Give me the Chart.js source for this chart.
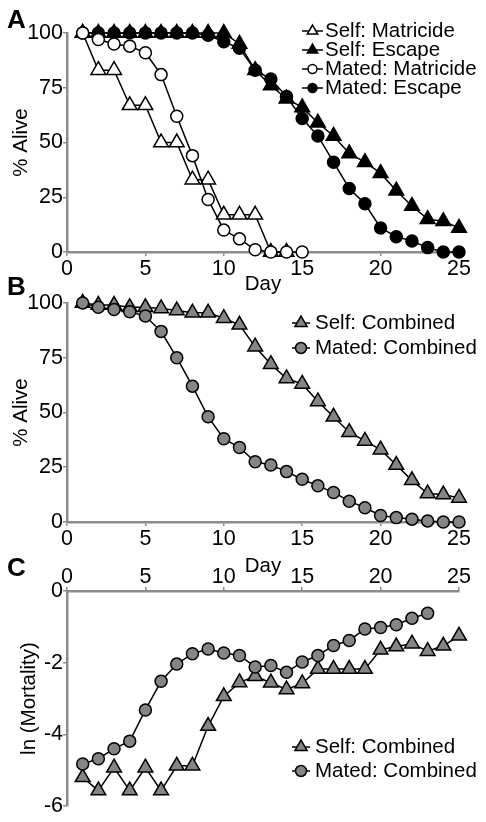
<!DOCTYPE html>
<html>
<head>
<meta charset="utf-8">
<script src="https://cdn.jsdelivr.net/npm/chart.js@4.4.1/dist/chart.umd.min.js"></script>
<style>
  body { margin: 0; background: #fff; }
  #wrap { position: relative; width: 486px; height: 822px; overflow: hidden; }
  canvas { position: absolute; left: 0; }
  .panel { position: absolute; left: 7px; font: bold 26px 'Liberation Sans', Arial, sans-serif; line-height: 26px; }
</style>
</head>
<body>
<div id="wrap">
  <canvas id="chartA" width="486" height="298" style="top:0px"></canvas>
  <canvas id="chartB" width="486" height="290" style="top:290px"></canvas>
  <canvas id="chartC" width="486" height="262" style="top:560px"></canvas>
  <div class="panel" style="top:6px">A</div>
  <div class="panel" style="top:273px">B</div>
  <div class="panel" style="top:554px">C</div>
</div>
<script>
// days on the x axis
const days = [1, 2, 3, 4, 5, 6, 7, 8, 9, 10, 11, 12, 13, 14, 15, 16, 17, 18, 19, 20, 21, 22, 23, 24, 25]
const xTicks = [0, 5, 10, 15, 20, 25]

// panel A - % alive
const selfMatricide = [100, 83, 83, 67, 67, 50, 50, 33, 33, 17, 17, 17, 0, 0]
const selfEscape = [100, 100, 100, 100, 100, 100, 100, 100, 100, 100, 95, 83, 76, 70, 66, 59, 53, 45, 41, 36, 28, 21, 15, 14, 11]
const matedMatricide = [100, 97, 95, 94, 91, 81, 62, 44, 24, 10, 6, 1, 0, 0, 0]
const matedEscape = [100, 100, 100, 100, 100, 100, 100, 100, 99, 96, 93, 83, 79, 71, 61, 53, 41, 29, 22, 11, 7, 5, 2, 0, 0]

// panel B - % alive, combined
const selfCombined = [100, 99, 99, 98, 98, 97.5, 96.5, 95.5, 95.5, 93, 90, 80, 72, 65.5, 63, 55, 48, 41, 37, 33, 26, 19, 13, 12.5, 11]
const matedCombined = [100, 98, 97, 96, 94, 87, 75, 62, 48, 38, 34, 27.5, 26, 23, 19.5, 16.5, 13.5, 9.5, 6.5, 3, 2, 1.3, 0.5, 0, 0]

// panel C - ln(mortality)
const selfMortality = [-5.2, -5.57, -4.93, -5.57, -4.93, -5.57, -4.88, -4.88, -3.77, -2.94, -2.55, -2.38, -2.56, -2.75, -2.58, -2.18, -2.18, -2.18, -2.18, -1.64, -1.55, -1.47, -1.68, -1.53, -1.25]
const matedMortality = [-4.83, -4.68, -4.4, -4.19, -3.32, -2.52, -2.04, -1.75, -1.62, -1.73, -1.8, -2.12, -2.08, -2.27, -1.98, -1.8, -1.52, -1.38, -1.06, -1.02, -0.94, -0.76, -0.62]

const FONT = "'Liberation Sans', Arial, sans-serif"
const AXIS = '#8c8c8c'
const GREY = '#858585'
Chart.defaults.font.family = FONT
Chart.defaults.font.size = 20.5
Chart.defaults.color = '#000'

function series(label, ys, style, fill, order) {
  return {
    label: label,
    data: ys.map((y, i) => ({ x: days[i], y: y })),
    pointStyle: style,
    pointRadius: style === 'triangle' ? 8.5 : 6,
    pointBackgroundColor: fill,
    pointBorderColor: '#000',
    pointBorderWidth: 1.5,
    borderColor: '#000',
    borderWidth: 1.5,
    clip: false,
    order: order,
  }
}

function xScale(pos, h, withTitle, pad) {
  return {
    type: 'linear',
    position: pos,
    min: 0,
    max: 25,
    afterBuildTicks: (s) => { s.ticks = xTicks.map((v) => ({ value: v })) },
    ticks: { padding: pad, font: { size: 21.5 } },
    grid: { drawOnChartArea: false, tickLength: 4, color: AXIS, lineWidth: 1.5 },
    border: { color: AXIS, width: 2.5 },
    title: { display: withTitle, text: 'Day', padding: { top: 0, bottom: 1 } },
    afterFit: (s) => { s.height = h },
  }
}

function yScale(min, max, step, text, pad) {
  return {
    type: 'linear',
    min: min,
    max: max,
    ticks: { stepSize: step, padding: 0, font: { size: 21.5 } },
    grid: { drawOnChartArea: false, tickLength: 4, color: AXIS, lineWidth: 1.5 },
    border: { color: AXIS, width: 2.5 },
    title: { display: true, text: text, padding: { top: pad, bottom: 0 } },
    afterFit: (s) => { s.width = 67 },
  }
}

function marker(ctx, style, x, y, r, fill) {
  ctx.beginPath()
  if (style === 'triangle') {
    for (let k = 0; k < 3; k++) {
      const a = k * 2 * Math.PI / 3
      const px = x + Math.sin(a) * r
      const py = y - Math.cos(a) * r
      if (k === 0) ctx.moveTo(px, py)
      else ctx.lineTo(px, py)
    }
    ctx.closePath()
  } else {
    ctx.arc(x, y, r, 0, Math.PI * 2)
  }
  ctx.fillStyle = fill
  ctx.fill()
  ctx.stroke()
}

// legend with a short line through the marker, like the figure
const keyPlugin = {
  id: 'key',
  afterDatasetsDraw(chart, args, opts) {
    const ctx = chart.ctx
    ctx.save()
    ctx.lineWidth = 1.5
    ctx.strokeStyle = '#000'
    chart.data.datasets.forEach((d, i) => {
      const y = opts.y + i * opts.rowH
      ctx.beginPath()
      ctx.moveTo(opts.x, y)
      ctx.lineTo(opts.x + opts.len, y)
      ctx.stroke()
      const r = d.pointStyle === 'triangle' ? opts.tri : opts.circ
      marker(ctx, d.pointStyle, opts.x + opts.len / 2, y, r, d.pointBackgroundColor)
      ctx.fillStyle = '#000'
      ctx.font = '20.5px ' + FONT
      ctx.textBaseline = 'middle'
      ctx.textAlign = 'left'
      ctx.fillText(d.label, opts.x + opts.len + opts.gap, y)
    })
    ctx.restore()
  },
}

function makeChart(id, datasets, scales, padding, key) {
  return new Chart(document.getElementById(id), {
    type: 'line',
    data: { datasets: datasets },
    options: {
      responsive: false,
      animation: false,
      devicePixelRatio: 1,
      layout: { padding: padding },
      scales: scales,
      plugins: { legend: { display: false }, tooltip: { enabled: false }, key: key },
    },
    plugins: [keyPlugin],
  })
}

makeChart('chartA', [
  series('Self: Matricide', selfMatricide, 'triangle', '#fff', 1),
  series('Self: Escape', selfEscape, 'triangle', '#000', 1),
  series('Mated: Matricide', matedMatricide, 'circle', '#fff', 0),
  series('Mated: Escape', matedEscape, 'circle', '#000', 0),
], {
  x: xScale('bottom', 46, true, 0),
  y: yScale(0, 100, 25, '% Alive', 9),
}, { top: 33, right: 27, left: 0, bottom: 0 },
{ x: 302, y: 31, rowH: 19, len: 21, gap: 2, tri: 6, circ: 4.5 })

makeChart('chartB', [
  series('Self: Combined', selfCombined, 'triangle', GREY, 1),
  series('Mated: Combined', matedCombined, 'circle', GREY, 0),
], {
  x: xScale('bottom', 58, true, 0),
  y: yScale(0, 100, 25, '% Alive', 9),
}, { top: 12, right: 27, left: 0, bottom: 0 },
{ x: 292, y: 33, rowH: 25, len: 18, gap: 5, tri: 7, circ: 5.5 })

makeChart('chartC', [
  series('Self: Combined', selfMortality, 'triangle', GREY, 1),
  series('Mated: Combined', matedMortality, 'circle', GREY, 0),
], {
  x: xScale('top', 31, false, -3),
  y: yScale(-6, 0, 2, 'ln (Mortality)', 17),
}, { top: 0, right: 27, left: 0, bottom: 16 },
{ x: 292, y: 187, rowH: 24, len: 18, gap: 5, tri: 7, circ: 5.5 })
</script>
</body>
</html>
